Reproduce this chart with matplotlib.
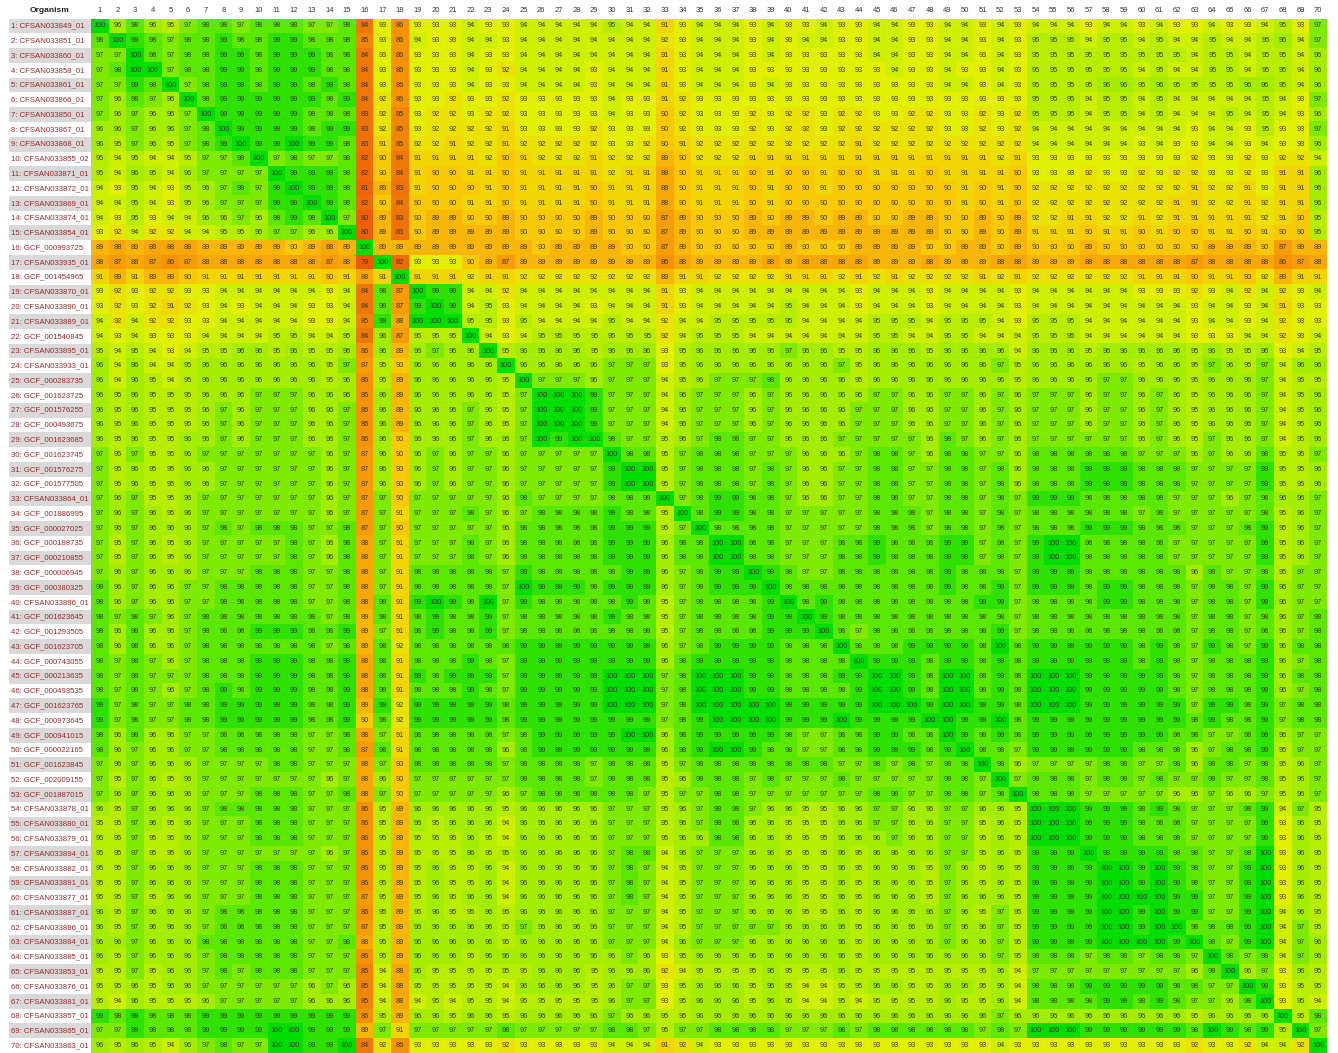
import numpy as np
import matplotlib
matplotlib.use('Agg')
import matplotlib.pyplot as plt
from matplotlib.colors import LinearSegmentedColormap
from matplotlib.patches import Rectangle

plt.rcParams['font.family'] = ['Liberation Sans', 'DejaVu Sans']

# Row labels (organism ids)
organisms = [
    'CFSAN033849_01', 'CFSAN033851_01', 'CFSAN033860_01', 'CFSAN033858_01', 'CFSAN033861_01',
    'CFSAN033866_01', 'CFSAN033850_01', 'CFSAN033867_01', 'CFSAN033868_01', 'CFSAN033855_02',
    'CFSAN033871_01', 'CFSAN033872_01', 'CFSAN033869_01', 'CFSAN033874_01', 'CFSAN033854_01',
    'GCF_000993725', 'CFSAN033935_01', 'GCF_001454965', 'CFSAN033870_01', 'CFSAN033890_01',
    'CFSAN033889_01', 'GCF_001540845', 'CFSAN033895_01', 'CFSAN033933_01', 'GCF_000283735',
    'GCF_001623725', 'GCF_001576255', 'GCF_000493675', 'GCF_001623685', 'GCF_001623745',
    'GCF_001576275', 'GCF_001577505', 'CFSAN033864_01', 'GCF_001886995', 'GCF_000027025',
    'GCF_000188735', 'GCF_000210855', 'GCF_000006945', 'GCF_000380325', 'CFSAN033896_01',
    'GCF_001623645', 'GCF_001293505', 'GCF_001623705', 'GCF_000743055', 'GCF_000213635',
    'GCF_000493535', 'GCF_001623765', 'GCF_000973645', 'GCF_000941015', 'GCF_000022165',
    'GCF_001623845', 'GCF_002009155', 'GCF_001887015', 'CFSAN033878_01', 'CFSAN033880_01',
    'CFSAN033879_01', 'CFSAN033894_01', 'CFSAN033882_01', 'CFSAN033891_01', 'CFSAN033877_01',
    'CFSAN033887_01', 'CFSAN033886_01', 'CFSAN033884_01', 'CFSAN033885_01', 'CFSAN033853_01',
    'CFSAN033876_01', 'CFSAN033881_01', 'CFSAN033857_01', 'CFSAN033865_01', 'CFSAN033863_01',
]

# identity values, columns 1-35
cols_1_35 = [
    "100 96 98 96 95 97 98 98 97 98 98 98 97 97 98 84 93 86 93 93 93 94 93 93 94 94 94 94 94 95 94 94 91 93 94",
    "98 100 99 98 97 98 98 99 98 98 99 99 98 98 98 85 93 86 94 93 93 94 94 93 94 94 94 94 94 94 94 94 92 93 94",
    "97 97 100 98 97 98 98 99 99 98 99 99 99 98 98 84 93 86 93 93 93 94 93 93 94 94 94 94 94 94 94 94 91 93 94",
    "97 98 100 100 97 98 98 99 99 98 99 99 99 98 98 84 93 86 93 93 93 94 93 92 94 94 94 94 93 94 94 94 91 93 94",
    "97 97 99 98 100 97 98 99 99 98 99 99 98 99 98 84 93 86 93 93 93 94 93 93 94 94 94 94 93 94 94 94 91 93 94",
    "97 96 98 97 96 100 98 99 99 99 99 99 99 98 99 84 92 86 93 93 92 93 93 92 93 93 93 93 93 94 93 93 91 92 93",
    "97 96 97 96 96 97 100 99 99 99 99 99 98 98 98 83 92 85 93 92 92 93 92 92 93 93 93 93 93 94 93 93 90 92 93",
    "96 96 97 96 96 97 98 100 99 99 99 99 98 99 99 83 92 85 93 92 92 92 92 91 93 93 93 93 92 93 93 93 90 92 93",
    "96 95 97 96 95 97 98 99 100 99 99 100 99 99 98 83 91 85 92 92 91 92 92 91 92 92 92 92 92 93 93 92 90 91 92",
    "95 94 95 94 94 95 97 97 98 100 97 98 97 97 98 82 90 84 91 91 91 91 92 90 91 92 92 92 91 92 92 92 89 90 92",
    "95 94 96 95 94 96 97 97 97 97 100 99 99 99 98 82 90 84 91 90 90 91 91 90 91 91 91 91 91 92 91 91 88 90 91",
    "94 93 95 94 93 95 96 97 98 97 99 100 99 99 98 81 89 83 91 90 90 90 91 90 91 91 91 91 90 91 91 91 88 90 91",
    "94 94 95 94 93 95 96 97 97 97 99 99 100 99 98 82 90 84 90 90 90 91 91 90 91 91 91 91 90 91 91 91 88 90 91",
    "94 93 95 93 94 94 96 96 97 96 98 99 98 100 97 80 89 83 90 89 89 90 90 89 90 90 90 90 89 90 90 90 87 89 90",
    "93 92 94 92 92 94 94 95 95 96 97 97 96 96 100 80 89 83 90 89 89 89 89 89 90 90 90 90 89 90 90 90 87 89 90",
    "89 88 89 88 88 88 89 89 89 89 89 90 89 88 89 100 89 89 89 89 89 89 89 89 89 90 89 89 89 89 90 90 87 89 90",
    "88 87 88 87 86 87 88 88 88 88 88 88 88 87 88 79 100 82 93 93 93 90 89 87 89 89 89 89 89 89 89 89 86 88 89",
    "91 89 91 89 89 90 91 91 91 91 91 91 91 90 91 88 91 100 91 91 91 92 91 91 92 92 92 92 92 92 92 92 89 91 91",
    "93 92 93 92 92 93 93 94 94 94 94 94 94 93 94 84 98 87 100 99 99 94 94 92 94 94 94 94 94 94 94 94 91 93 94",
    "93 92 93 92 91 92 93 94 93 94 94 94 93 93 94 84 98 87 99 100 99 94 95 93 94 94 94 94 93 94 94 94 91 93 94",
    "94 92 94 92 92 93 93 94 94 94 94 94 93 93 94 85 99 88 100 100 100 95 95 93 95 94 94 94 94 95 94 94 92 94 94",
    "94 93 94 93 93 93 94 94 94 94 95 95 94 94 95 84 96 87 95 95 95 100 94 93 94 95 95 95 95 95 95 95 92 94 95",
    "95 94 95 94 93 94 95 95 96 96 95 96 95 95 96 86 96 89 96 97 96 96 100 95 96 96 96 96 95 96 96 96 93 95 96",
    "96 94 96 94 94 95 96 96 96 96 96 96 96 95 97 87 95 90 96 96 96 96 96 100 96 96 96 96 96 97 97 97 93 95 96",
    "96 94 96 95 94 95 96 96 96 96 96 96 96 95 96 86 95 89 96 96 96 96 96 95 100 97 97 97 96 97 97 97 94 95 96",
    "96 95 96 95 95 95 96 96 96 97 97 97 96 96 96 86 96 89 96 96 96 96 96 95 97 100 100 100 99 97 97 97 94 96 97",
    "96 95 96 95 95 95 96 97 96 97 97 97 96 96 97 86 96 89 96 96 96 97 96 95 97 100 100 100 99 97 97 97 94 96 97",
    "96 95 96 95 95 95 96 97 96 97 97 97 96 96 97 86 96 89 96 96 96 97 96 95 97 100 100 100 99 97 97 97 94 96 97",
    "96 95 96 95 95 96 96 97 96 97 97 97 96 96 97 86 96 90 96 96 96 97 96 96 97 100 99 100 100 98 97 97 95 96 97",
    "97 95 97 95 95 96 97 97 97 97 97 97 97 96 97 87 96 90 96 97 96 97 97 96 97 97 97 97 97 100 98 98 95 97 98",
    "97 95 96 95 95 96 96 97 97 97 97 97 97 96 97 87 96 90 96 97 96 97 97 96 97 97 97 97 97 99 100 100 95 97 98",
    "97 95 96 95 95 96 96 97 97 97 97 97 97 96 97 87 96 90 96 97 96 97 97 96 97 97 97 97 97 99 100 100 95 97 98",
    "97 96 97 95 95 96 97 97 97 97 97 97 97 96 97 87 97 90 97 97 97 97 97 96 98 97 97 97 97 98 98 98 100 97 98",
    "97 96 97 96 95 96 97 97 97 97 97 97 97 96 97 87 97 91 97 97 97 98 97 96 97 98 98 98 98 99 98 98 95 100 98",
    "97 96 97 96 96 96 97 98 97 98 98 98 97 97 98 87 97 90 97 97 97 97 97 96 98 98 98 98 98 99 99 99 95 97 100",
    "97 95 97 96 95 96 97 97 97 97 97 98 97 96 98 88 97 91 97 97 97 98 97 96 98 98 98 98 98 99 99 99 96 98 98",
    "97 95 97 96 95 96 97 97 97 97 97 98 97 96 98 88 97 91 97 97 97 98 97 96 98 98 98 98 98 99 99 99 96 98 98",
    "97 96 97 96 96 96 97 97 97 98 98 98 97 97 98 88 97 91 98 98 98 98 98 97 99 98 98 98 98 98 99 99 96 97 98",
    "98 96 97 96 96 97 97 98 98 98 98 98 97 97 98 88 97 91 98 98 98 98 98 97 100 99 99 99 98 99 99 99 96 97 98",
    "98 96 97 96 96 97 97 98 98 98 98 98 97 97 98 88 98 91 99 100 99 98 100 97 99 98 98 98 98 98 99 98 95 97 98",
    "98 97 98 97 96 97 98 98 98 98 98 98 98 97 98 89 98 91 98 99 98 98 99 97 98 98 98 98 98 99 98 98 95 97 98",
    "98 96 98 96 96 97 98 98 98 99 99 99 98 98 99 89 97 91 98 99 98 98 99 97 98 98 98 98 98 98 98 98 95 97 98",
    "98 96 98 96 96 97 98 98 98 98 98 98 98 97 98 89 98 92 98 98 98 98 98 98 99 99 99 99 99 99 99 99 96 97 98",
    "98 97 98 97 96 97 98 98 98 99 99 99 98 98 99 88 98 91 98 98 98 99 98 97 99 99 99 99 99 99 99 99 96 98 99",
    "98 97 98 97 97 97 98 98 98 99 99 99 98 98 99 88 98 91 99 98 99 99 99 97 99 99 99 99 99 100 100 100 97 98 100",
    "98 97 98 97 96 97 98 99 98 99 99 99 98 98 99 88 98 91 98 98 98 99 98 97 99 99 99 99 99 100 100 100 97 98 100",
    "99 97 98 97 97 98 98 99 99 99 99 99 98 98 99 89 99 92 99 99 99 99 99 98 99 99 99 99 99 100 100 100 97 98 100",
    "99 97 98 97 97 98 98 99 99 99 99 99 98 98 99 90 98 92 99 99 99 99 99 98 99 99 99 99 99 99 99 99 97 98 99",
    "98 96 98 96 96 97 97 98 98 98 98 98 97 97 98 88 97 91 98 98 98 98 98 97 98 99 99 99 99 99 100 100 96 98 99",
    "98 96 97 96 96 97 97 98 98 98 98 98 97 97 98 87 98 91 98 98 98 98 98 96 98 99 99 99 99 99 99 99 96 98 99",
    "97 96 97 96 96 96 97 97 97 97 98 98 97 97 97 88 97 90 98 98 98 98 98 97 98 98 98 98 97 98 98 98 95 97 98",
    "97 95 97 96 95 96 97 97 97 97 97 97 97 96 97 88 96 90 97 97 97 97 97 97 98 98 98 98 97 98 98 98 95 96 98",
    "97 96 97 96 96 96 97 97 97 98 98 98 97 97 98 88 97 90 97 97 97 97 97 96 97 98 98 98 98 98 98 97 95 97 97",
    "96 95 97 96 96 96 97 98 98 98 98 98 97 97 97 86 95 89 96 96 96 96 96 95 96 96 96 96 96 97 97 97 95 96 97",
    "95 95 97 96 95 96 97 97 97 98 98 98 97 97 97 86 95 89 96 95 96 96 96 94 96 96 96 96 96 97 97 97 95 96 97",
    "95 95 97 95 95 96 97 97 97 98 98 98 97 97 97 86 95 89 95 95 95 96 95 94 96 96 96 96 96 97 97 97 95 96 96",
    "95 95 97 95 95 96 97 97 97 97 97 97 97 96 97 86 95 89 95 95 95 96 95 95 96 96 96 96 96 97 98 98 94 96 97",
    "95 95 97 96 96 96 97 97 97 98 98 98 97 97 97 86 95 89 95 96 95 95 96 94 96 96 96 96 96 97 98 97 94 95 97",
    "95 95 97 96 96 96 97 97 97 98 98 98 97 97 97 86 95 89 95 96 95 95 96 94 96 96 96 96 96 97 98 97 94 95 97",
    "95 95 97 95 96 96 97 97 97 98 98 98 97 97 97 87 95 89 95 96 95 96 96 94 96 96 96 96 96 97 98 97 94 95 97",
    "96 95 97 96 96 96 97 98 98 98 98 98 97 97 97 86 95 89 95 96 95 95 96 95 96 96 96 96 96 97 97 97 94 95 97",
    "96 95 97 96 96 96 97 98 98 98 98 98 97 97 97 87 95 89 96 96 96 96 96 95 97 96 96 96 96 97 97 97 94 95 97",
    "96 96 97 96 96 96 98 98 98 98 98 98 97 97 98 88 95 89 96 96 96 96 96 95 96 96 96 96 96 97 97 97 94 96 97",
    "96 95 97 96 96 96 97 98 98 98 98 98 97 97 97 86 95 89 96 96 96 95 96 96 96 96 96 96 96 96 97 96 93 95 96",
    "95 95 97 95 96 96 97 98 97 98 98 98 97 97 97 85 94 88 96 95 95 95 95 95 95 96 96 96 95 96 96 96 92 94 95",
    "95 95 96 95 96 96 97 97 97 97 97 97 96 97 96 85 94 88 95 95 95 95 95 94 96 96 96 96 95 96 97 97 93 95 96",
    "95 94 96 95 95 95 96 97 97 97 97 97 96 96 96 85 94 88 94 95 94 95 95 94 95 95 95 95 95 96 97 97 93 95 96",
    "99 98 99 98 98 98 99 99 99 99 99 99 99 99 99 86 95 89 96 96 95 96 96 95 96 96 96 96 96 97 96 96 95 95 96",
    "97 97 99 98 98 98 99 99 99 99 100 100 99 99 99 89 97 91 97 97 97 97 97 98 97 97 97 97 97 98 98 97 95 97 97",
    "96 95 96 95 94 96 97 98 97 97 100 100 99 99 100 84 92 86 93 93 93 93 93 92 93 93 93 93 93 94 94 94 91 92 94",
]

# identity values, columns 36-70
cols_36_70 = [
    "94 94 93 94 93 93 94 93 93 94 94 93 93 94 94 93 94 93 94 94 94 93 94 94 93 94 93 93 94 93 93 94 95 93 97",
    "94 94 93 94 93 94 94 93 93 94 94 93 93 94 94 93 94 93 95 95 95 94 95 95 94 95 94 94 95 94 94 95 96 94 97",
    "94 94 93 94 93 93 93 93 93 94 94 93 93 94 94 93 94 93 95 95 95 95 95 95 95 95 95 94 95 95 94 95 95 94 96",
    "94 94 93 93 93 93 93 93 93 93 94 93 93 94 93 93 94 93 95 95 95 95 95 95 94 95 94 94 95 95 94 95 95 94 96",
    "94 94 93 94 93 93 93 93 93 93 93 93 93 94 94 93 94 93 95 95 95 95 96 96 95 96 95 95 95 95 96 96 95 94 96",
    "93 93 93 93 93 93 93 93 93 93 93 93 93 93 93 93 93 93 95 95 95 94 95 95 94 95 94 94 94 94 94 95 94 93 97",
    "93 93 92 93 92 92 93 92 92 93 93 92 92 93 93 92 93 92 95 95 95 94 95 95 94 95 94 94 94 95 94 95 94 93 96",
    "93 93 92 93 92 92 93 92 92 92 92 92 92 93 93 92 93 92 94 94 94 94 94 94 94 94 94 93 94 94 93 95 93 93 97",
    "92 92 92 92 92 92 92 92 91 92 92 92 92 92 92 92 92 92 94 94 94 94 94 94 93 94 93 93 94 94 93 94 93 93 96",
    "92 92 91 91 91 91 91 91 91 91 91 91 91 91 91 91 92 91 93 93 93 93 93 93 93 93 93 92 93 93 92 93 92 92 94",
    "91 91 90 91 90 90 91 90 90 91 91 91 90 91 91 91 91 90 93 93 93 92 93 93 92 93 92 92 93 93 92 93 91 91 96",
    "91 91 90 91 90 90 91 90 90 90 90 90 90 90 91 90 91 90 92 92 92 92 92 92 92 92 92 91 92 92 91 93 91 91 96",
    "91 91 90 91 90 90 90 90 90 90 90 90 90 90 91 90 91 90 92 92 92 92 92 92 92 92 91 91 92 92 91 92 91 91 96",
    "90 90 89 90 89 89 90 89 89 90 90 89 89 90 90 89 90 89 92 92 91 91 92 92 91 92 91 91 91 91 91 92 91 90 95",
    "90 90 89 89 89 89 89 89 89 89 89 89 89 90 90 89 90 89 91 91 91 90 91 91 90 91 90 90 91 91 90 91 90 90 95",
    "90 90 90 90 89 90 90 90 89 89 89 89 90 90 89 89 90 89 90 90 90 89 90 90 90 90 90 90 89 89 89 90 87 89 89",
    "89 89 89 88 89 88 88 88 88 89 89 89 88 89 89 89 88 88 89 89 89 88 88 88 88 88 88 87 88 88 88 88 86 87 88",
    "92 92 92 92 91 91 91 92 91 92 91 92 92 92 92 91 92 91 92 92 92 92 92 92 91 91 91 90 91 91 90 92 89 91 91",
    "94 94 94 94 94 94 94 94 93 94 94 94 93 94 94 94 94 93 94 94 94 94 94 94 93 93 93 92 93 94 92 94 92 93 94",
    "94 94 94 94 95 94 94 94 93 94 94 94 93 94 94 94 94 93 94 94 94 94 94 94 94 94 94 93 94 94 93 94 91 93 93",
    "95 95 95 95 95 94 94 94 94 95 95 95 94 95 95 95 94 93 95 95 95 94 94 94 94 94 94 93 94 94 93 94 92 93 93",
    "95 95 94 94 94 94 94 94 94 95 95 94 94 95 95 94 94 94 95 95 95 94 94 94 94 94 94 93 93 93 94 94 92 93 94",
    "96 96 96 96 97 96 96 95 95 96 96 96 95 96 96 96 96 94 96 96 96 95 96 96 96 96 96 95 96 95 95 96 93 94 95",
    "96 96 96 96 96 96 96 97 95 96 96 96 96 96 96 96 97 95 96 96 96 96 96 96 95 96 96 95 97 96 95 97 94 96 96",
    "97 97 97 98 96 96 96 96 95 96 96 96 96 96 96 96 96 95 96 96 96 96 97 97 96 96 96 95 96 96 96 97 94 95 95",
    "97 97 96 97 96 96 96 96 96 97 97 96 96 97 97 96 97 96 97 97 97 96 97 97 96 97 96 95 96 96 96 97 94 95 96",
    "97 97 96 97 96 96 96 96 97 97 97 96 96 97 97 96 97 96 97 97 97 96 97 97 96 97 96 95 96 96 96 97 94 95 96",
    "97 97 96 97 96 96 96 96 97 97 97 96 96 97 97 96 97 96 97 97 97 96 97 97 96 97 96 95 96 96 96 97 94 95 96",
    "98 98 97 97 96 96 96 97 97 97 97 97 96 98 97 96 97 96 97 97 97 97 97 97 96 97 96 95 97 96 96 97 94 95 96",
    "98 98 97 97 97 96 96 96 97 98 98 97 96 98 98 97 97 96 98 98 98 98 98 98 97 97 97 96 97 96 96 98 95 95 97",
    "98 98 97 98 97 96 96 97 97 98 98 97 97 98 98 97 98 96 98 98 98 99 99 99 98 98 98 97 97 97 97 99 95 95 96",
    "98 98 97 98 97 96 96 97 97 98 98 97 97 98 98 97 98 96 98 98 98 99 99 99 98 98 98 97 97 97 97 99 95 95 96",
    "99 99 98 98 97 96 96 97 97 98 98 97 97 98 98 97 98 97 99 99 99 98 98 98 98 98 97 97 97 96 97 98 96 96 97",
    "99 99 98 98 97 97 97 97 97 98 98 98 97 98 98 97 98 97 98 98 98 98 98 98 97 98 97 97 97 97 97 98 95 96 97",
    "98 98 98 98 97 97 97 97 97 98 98 98 97 98 98 97 98 97 98 98 98 99 99 99 98 98 98 97 97 97 98 99 95 96 97",
    "100 100 98 98 97 97 97 98 98 99 98 98 98 99 99 97 98 97 99 100 100 98 98 98 98 98 97 97 97 97 97 99 95 96 97",
    "100 100 98 98 97 97 97 98 98 99 98 98 98 99 99 97 98 97 99 100 100 98 98 98 98 98 97 97 97 97 97 99 95 96 97",
    "99 99 100 99 98 97 97 98 98 98 98 98 98 99 98 98 98 97 99 99 99 98 98 98 98 98 98 96 98 97 97 98 95 97 97",
    "99 99 99 100 98 98 98 98 98 98 98 98 98 99 98 98 99 97 99 99 99 98 99 99 98 98 98 97 98 98 97 99 96 97 97",
    "98 98 98 99 100 98 99 98 98 98 98 98 98 98 98 99 99 97 98 98 98 98 99 99 98 98 98 97 98 98 97 99 96 97 97",
    "98 98 98 99 99 100 99 98 98 98 98 98 98 98 98 98 98 97 98 98 98 98 98 98 98 98 98 97 98 98 97 98 96 97 98",
    "98 98 98 99 99 99 100 98 97 98 98 98 98 98 98 98 99 97 98 98 98 98 98 98 98 98 98 97 98 98 97 98 96 97 98",
    "99 99 99 99 98 98 98 100 98 98 98 99 99 99 99 98 100 98 99 99 99 99 99 99 98 99 98 97 99 98 97 99 96 98 98",
    "99 99 99 99 98 98 98 98 100 99 99 99 98 99 99 98 99 98 99 99 99 99 99 99 98 99 98 97 98 98 98 99 96 97 98",
    "100 100 99 99 98 98 98 99 99 100 100 99 98 100 100 98 99 98 100 100 100 99 99 99 99 99 98 97 98 98 98 99 96 98 98",
    "100 100 99 99 98 98 98 98 99 100 100 99 98 100 100 98 99 98 100 100 100 99 99 99 99 99 98 97 98 98 98 99 96 97 98",
    "100 100 100 100 99 99 99 99 99 100 100 100 99 100 100 99 99 98 100 100 100 99 99 99 99 99 99 97 99 99 98 99 97 98 98",
    "100 100 100 100 99 99 99 100 99 99 99 99 100 100 99 99 100 98 99 99 99 99 99 99 99 99 99 98 99 98 98 99 97 98 98",
    "99 99 99 99 98 97 97 98 98 99 99 98 98 100 99 98 99 98 99 99 99 99 99 99 99 99 98 98 97 97 98 99 96 97 97",
    "100 100 99 98 98 97 97 98 98 99 99 99 98 99 100 98 98 97 99 99 99 99 99 99 98 98 98 96 97 98 98 99 95 97 97",
    "98 98 98 98 98 98 98 97 97 98 97 98 97 98 98 100 98 96 97 97 97 97 98 98 97 97 98 96 98 98 97 98 95 96 97",
    "98 98 97 98 97 97 97 98 97 97 97 97 97 98 98 97 100 97 98 98 98 97 98 98 97 98 97 97 98 97 97 98 95 96 97",
    "98 98 97 97 97 97 97 97 97 98 98 97 97 98 98 97 98 100 98 98 98 97 97 97 97 97 96 96 97 96 96 97 95 96 97",
    "98 98 97 96 96 95 95 96 96 97 97 96 96 97 97 96 96 95 100 100 100 99 99 99 98 99 98 97 97 97 98 99 94 97 95",
    "98 98 96 96 95 95 95 96 96 97 97 96 96 97 97 95 96 95 100 100 100 99 99 99 98 98 98 97 97 97 97 99 93 96 95",
    "98 98 96 96 95 95 95 96 96 96 97 96 96 97 97 95 96 95 100 100 100 99 99 99 98 98 98 97 97 97 97 99 93 96 95",
    "97 97 96 96 95 95 95 96 95 96 96 96 96 97 97 95 96 95 99 99 99 100 99 99 99 99 98 98 97 97 98 100 93 96 95",
    "97 97 96 96 96 95 95 96 95 96 96 96 95 97 96 95 96 95 99 99 99 99 100 100 99 100 99 98 97 97 99 100 93 96 95",
    "97 97 96 96 96 95 95 96 95 96 96 96 95 97 96 95 96 95 99 99 99 99 100 100 99 100 99 98 97 97 99 100 93 96 95",
    "97 97 96 96 96 95 95 96 95 96 96 96 95 97 96 96 96 95 99 99 99 99 100 100 100 100 99 99 97 97 99 100 93 96 95",
    "97 97 96 96 96 95 95 96 95 96 96 96 96 97 96 95 97 95 99 99 99 99 100 100 99 100 99 99 97 97 99 100 94 96 95",
    "97 97 97 97 96 96 96 96 95 96 96 96 96 97 96 96 97 95 99 99 99 99 100 100 99 100 100 98 98 98 99 100 94 97 95",
    "97 97 96 96 96 96 96 96 95 96 96 96 96 97 96 96 97 95 99 99 99 99 100 100 100 100 99 100 98 97 99 100 94 97 96",
    "96 96 96 96 96 96 96 96 95 96 96 96 96 96 96 96 97 95 98 98 98 97 98 98 97 98 98 97 100 98 97 98 94 97 96",
    "95 95 95 96 95 95 95 96 95 95 95 95 95 95 95 95 96 94 97 97 97 97 97 97 97 97 97 96 98 100 96 97 93 96 95",
    "96 96 95 96 95 94 94 95 95 96 96 95 95 96 96 95 96 94 98 98 98 99 99 99 99 99 98 98 97 97 100 99 93 95 95",
    "96 96 95 96 95 94 94 95 94 95 95 95 95 96 95 95 96 94 98 98 98 98 99 99 98 99 98 97 97 96 98 100 93 95 94",
    "96 96 96 96 96 96 96 96 96 96 96 96 96 96 96 96 97 96 96 96 96 96 96 96 96 96 96 95 96 96 96 96 100 95 98",
    "98 98 98 98 97 97 97 98 97 98 98 98 98 98 98 97 98 97 100 100 100 99 99 99 99 99 99 98 100 99 98 99 95 100 97",
    "93 93 93 93 93 93 93 93 93 93 93 93 93 93 93 93 94 93 93 93 93 93 93 93 93 93 93 92 93 93 92 94 94 92 100",
]

rows_a = [r.split() for r in cols_1_35]
rows_b = [r.split() for r in cols_36_70]
bad = [(i + 1, len(a), len(b)) for i, (a, b) in enumerate(zip(rows_a, rows_b)) if len(a) != 35 or len(b) != 35]
if bad or len(rows_a) != 70 or len(rows_b) != 70:
    raise SystemExit('bad rows: %s  n=%d,%d' % (bad, len(rows_a), len(rows_b)))
ident = np.array([a + b for a, b in zip(rows_a, rows_b)], dtype=int)
n = ident.shape[0]

# red -> orange -> yellow -> green scale
cmap = LinearSegmentedColormap.from_list('ani', [
    (0.00, '#ec5a06'),
    (5 / 21, '#f07808'),
    (7 / 21, '#f59208'),
    (9 / 21, '#f8a808'),
    (11 / 21, '#fac808'),
    (14 / 21, '#e2f000'),
    (17 / 21, '#a4ee00'),
    (19 / 21, '#5ce800'),
    (1.00, '#00dd00'),
])

W, H = 1338, 1053
fig = plt.figure(figsize=(W / 100, H / 100), dpi=100)
x0, x1 = 91, 1327
y_top = 18.6

ax = fig.add_axes([x0 / W, 0, (x1 - x0) / W, (H - y_top) / H])
ax.imshow(ident, cmap=cmap, vmin=79, vmax=100, aspect='auto', interpolation='nearest')
for i in range(n):
    for j in range(n):
        ax.text(j, i, str(ident[i, j]), ha='center', va='center', fontsize=5.3, color='#3a3a2a')
for j in range(n):
    ax.text(j, -1.05, str(j + 1), ha='center', va='center', fontsize=5.5, color='#333333', clip_on=False)
ax.set_xlim(-0.5, n - 0.5)
ax.set_ylim(n - 0.5, -0.5)
ax.axis('off')

# row label column
lab = fig.add_axes([0, 0, x0 / W, (H - y_top) / H])
lab.set_xlim(0, x0)
lab.set_ylim(n - 0.5, -0.5)
lab.axis('off')
for i, name in enumerate(organisms):
    if i % 2 == 0:
        lab.add_patch(Rectangle((9, i - 0.5), x0 - 9, 1, color='#d9d9d9', lw=0))
    lab.text(11, i, '%d: %s' % (i + 1, name), ha='left', va='center', fontsize=5.6, color='#9b2b2b')
lab.text(50, -1.05, 'Organism', ha='center', va='center', fontsize=6, fontweight='bold',
         color='#222222', clip_on=False)

fig.savefig('out.png', dpi=100)
